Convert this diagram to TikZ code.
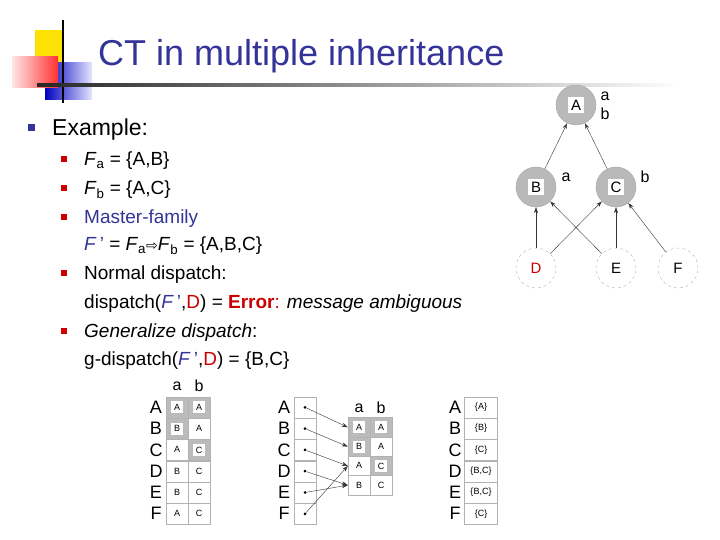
\documentclass[tikz,border=0pt]{standalone}
\usepackage{fontspec}
\setmainfont{Liberation Sans}
\newfontfamily\dejavu{DejaVu Sans}
\usetikzlibrary{arrows.meta}
\definecolor{ttl}{HTML}{333399}
\definecolor{bred}{HTML}{CC0000}
\definecolor{cellg}{HTML}{BBBBBB}
\begin{document}
\begin{tikzpicture}[x=1pt,y=-1pt,
  tx/.style={anchor=base west,inner sep=0,font=\fontsize{19}{21}\selectfont},
  bul/.style={fill=bred,minimum size=6pt,inner sep=0},
  gnode/.style={circle,fill=gray!55,draw=gray!70,minimum size=40pt,inner sep=0,font=\fontsize{15}{17}\selectfont},
  wnode/.style={circle,draw=gray!60,dashed,minimum size=40pt,inner sep=0,font=\fontsize{15}{17}\selectfont},
  arr/.style={-{Stealth[length=6pt,width=4pt]},black!80},
  cell/.style={draw=gray!60,minimum width=22pt,minimum height=21pt,inner sep=0,font=\fontsize{9}{10}\selectfont},
  scell/.style={cell,fill=cellg},
  rl/.style={font=\fontsize{18}{20}\selectfont,inner sep=0},
  hl/.style={font=\fontsize{16}{18}\selectfont,inner sep=0},
  dot/.style={circle,fill=black,inner sep=0,minimum size=3pt}]
\useasboundingbox (0,0) rectangle (720,540);
% decoration
\fill[yellow!85!orange] (35,30) rectangle (62,63);
\shade[left color=blue!75!black,right color=blue!10] (45,63) rectangle (92,100);
\shade[left color=red!10,right color=red!80] (12,57) rectangle (58,88);
\draw[black,line width=1.5pt] (63,20) -- (63,103);
\shade[left color=black!85,right color=white] (37,84) rectangle (680,87);
\node[anchor=base west,inner sep=0,text=ttl,font=\fontsize{36}{40}\selectfont] (title) at (98,66) {CT in multiple inheritance};
% bullets
\node[fill=ttl,minimum size=7pt,inner sep=0] (b0) at (31,128) {};
\node[anchor=base west,inner sep=0,font=\fontsize{23}{26}\selectfont] (ex) at (52,136) {Example:};
\node[bul] (b1) at (64,159) {};
\node[tx] (t1) at (84,166) {\textit{F}\textsubscript{a} = \{A,B\}};
\node[bul] (b2) at (64,188) {};
\node[tx] (t2) at (84,195) {\textit{F}\textsubscript{b} = \{A,C\}};
\node[bul] (b3) at (64,217) {};
\node[tx,text=ttl] (t3) at (84,223) {Master-family};
\node[tx] (t3b) at (84,251) {\textcolor{ttl}{\textit{F}\,'} = \textit{F}\textsubscript{a}{\dejavu\fontsize{14}{15}\selectfont ⇨}\textit{F}\textsubscript{b} = \{A,B,C\}};
\node[bul] (b4) at (64,273) {};
\node[tx] (t4) at (84,279) {Normal dispatch:};
\node[tx] (t4b) at (84,308) {dispatch(\textcolor{ttl}{\textit{F}\,'},\textcolor{bred}{D}) = \textcolor{bred}{\textbf{Error}:} \textit{message ambiguous}};
\node[bul] (b5) at (64,331) {};
\node[tx] (t5) at (84,337) {\textit{Generalize dispatch}:};
\node[tx] (t5b) at (84,365) {g-dispatch(\textcolor{ttl}{\textit{F}\,'},\textcolor{bred}{D}) = \{B,C\}};
% tree
\node[gnode] (A) at (576,105) {\colorbox{white}{A}};
\node[gnode] (B) at (536,187) {\colorbox{white}{B}};
\node[gnode] (C) at (616,187) {\colorbox{white}{C}};
\node[wnode,text=bred] (D) at (536,268) {D};
\node[wnode] (E) at (616,268) {E};
\node[wnode] (F) at (678,268) {F};
\node[hl] (la1) at (605,96) {a};
\node[hl] (lb1) at (605,114) {b};
\node[hl] (la2) at (566,177) {a};
\node[hl] (lb2) at (645,177) {b};
\draw[arr] (B) -- (A);
\draw[arr] (C) -- (A);
\draw[arr] (D) -- (B);
\draw[arr] (D) -- (C);
\draw[arr] (E) -- (B);
\draw[arr] (E) -- (C);
\draw[arr] (F) -- (C);
% table 1
\foreach \r/\l/\a/\b/\sa/\sb [count=\i] in {A/A/A/A/1/1,B/B/B/A/1/0,C/C/A/C/0/1,D/D/B/C/0/0,E/E/B/C/0/0,F/F/A/C/0/0}{
  \node[rl] (p\i) at (156,{386+21.3*\i}) {\r};
  \ifnum\sa=1 \node[scell] (pa\i) at (177,{386+21.3*\i}) {\colorbox{white}{\a}};\else\node[cell] (pa\i) at (177,{386+21.3*\i}) {\a};\fi
  \ifnum\sb=1 \node[scell] (pb\i) at (199,{386+21.3*\i}) {\colorbox{white}{\b}};\else\node[cell] (pb\i) at (199,{386+21.3*\i}) {\b};\fi
}
\node[hl] (ha1) at (177,386) {a};
\node[hl] (hb1) at (199,386) {b};
% table 2
\foreach \r [count=\i] in {A,B,C,D,E,F}{
  \node[rl] (q\i) at (284,{386+21.3*\i}) {\r};
  \node[cell] (qc\i) at (305,{386+21.3*\i}) {};
  \node[dot] (qd\i) at (305,{386+21.3*\i}) {};
}
\foreach \a/\b/\sa/\sb [count=\i] in {A/A/1/1,B/A/1/0,A/C/0/1,B/C/0/0}{
  \ifnum\sa=1 \node[scell,minimum height=19.3pt] (ra\i) at (359,{408+19.3*\i}) {\colorbox{white}{\a}};\else\node[cell,minimum height=19.3pt] (ra\i) at (359,{408+19.3*\i}) {\a};\fi
  \ifnum\sb=1 \node[scell,minimum height=19.3pt] (rb\i) at (381,{408+19.3*\i}) {\colorbox{white}{\b}};\else\node[cell,minimum height=19.3pt] (rb\i) at (381,{408+19.3*\i}) {\b};\fi
}
\node[hl] (ha2) at (359,408) {a};
\node[hl] (hb2) at (381,408) {b};
\draw[arr] (qd1) -- (ra1.west);
\draw[arr] (qd2) -- (ra2.west);
\draw[arr] (qd3) -- (ra3.west);
\draw[arr] (qd4) -- (ra4.west);
\draw[arr] (qd5) -- (ra4.west);
\draw[arr] (qd6) -- (ra3.west);
% table 3
\foreach \r/\v [count=\i] in {A/{\{A\}},B/{\{B\}},C/{\{C\}},D/{\{B,C\}},E/{\{B,C\}},F/{\{C\}}}{
  \node[rl] (s\i) at (455,{386+21.3*\i}) {\r};
  \node[cell,minimum width=33pt] (sc\i) at (481,{386+21.3*\i}) {\v};
}
\end{tikzpicture}
\end{document}
